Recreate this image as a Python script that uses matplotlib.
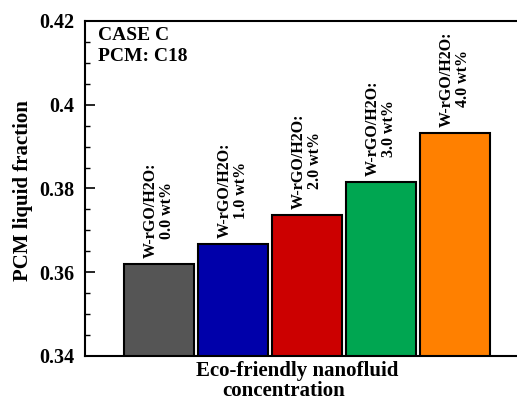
import matplotlib
matplotlib.use("Agg")
import matplotlib.pyplot as plt
from matplotlib.ticker import MultipleLocator

plt.rcParams['font.family'] = ['Liberation Serif', 'DejaVu Serif']
plt.rcParams['font.weight'] = 'bold'

categories = ["W-rGO/H2O:\n0.0 wt%", "W-rGO/H2O:\n1.0 wt%", "W-rGO/H2O:\n2.0 wt%",
              "W-rGO/H2O:\n3.0 wt%", "W-rGO/H2O:\n4.0 wt%"]
values = [0.3619, 0.3667, 0.3737, 0.3815, 0.3933]
colors = ["#555555", "#0000AA", "#CC0000", "#00A651", "#FF8000"]
yticks = [0.34, 0.36, 0.38, 0.4, 0.42]
yticklabels = ["0.34", "0.36", "0.38", "0.4", "0.42"]
xlabel_lines = ["Eco-friendly nanofluid", "concentration"]

fig = plt.figure(figsize=(5.17, 4.01), dpi=100)
ax = fig.add_axes([85/517, 45/401, 444/517, 335/401])

x = list(range(len(values)))
ax.bar(x, values, width=0.95, bottom=0, color=colors, edgecolor='black', linewidth=1.5)
for xi, v, lab in zip(x, values, categories):
    ax.text(xi, v + 0.0015, lab, rotation=90, ha='center', va='bottom',
            fontsize=11.5, fontweight='bold', linespacing=1.0)

ax.set_xlim(-1, 5)
ax.set_ylim(0.34, 0.42)
ax.set_yticks(yticks)
ax.set_yticklabels(yticklabels, fontsize=14.5, fontweight='bold')
ax.yaxis.set_minor_locator(MultipleLocator(0.005))
ax.tick_params(axis='y', which='major', direction='in', length=7, width=1.2, pad=8)
ax.tick_params(axis='y', which='minor', direction='in', length=3.5, width=1)
ax.set_xticks([])
for s in ax.spines.values():
    s.set_linewidth(1.5)

fig.text(23/517, 1 - 191/401, "PCM liquid fraction", rotation=90, ha='center', va='center',
         fontsize=15, fontweight='bold')

fig.text(297.5/517, 1 - 361/401, xlabel_lines[0], ha='center', va='top',
         fontsize=15, fontweight='bold')
fig.text(283.5/517, 1 - 381/401, xlabel_lines[1], ha='center', va='top',
         fontsize=15, fontweight='bold')

fig.text(98/517, 1 - 27/401, "CASE C\nPCM: C18", ha='left', va='top',
         fontsize=14, fontweight='bold', linespacing=1.28)

fig.savefig("out.png", dpi=100)
